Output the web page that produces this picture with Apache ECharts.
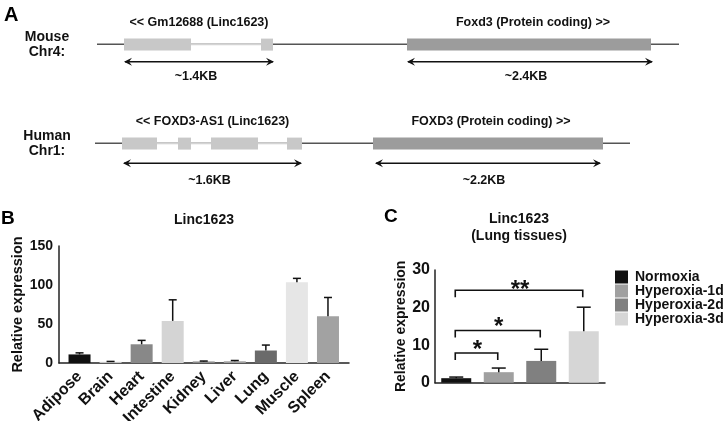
<!DOCTYPE html>
<html><head><meta charset="utf-8">
<script src="https://cdn.jsdelivr.net/npm/echarts@6/dist/echarts.min.js"></script>
<style>html,body{margin:0;padding:0;background:#fff}#c{width:724px;height:421px}</style>
</head><body><div id="c"></div>
<script>
const FONT = '"Liberation Sans", Arial, Helvetica, sans-serif';

// ---------- Panel A : gene structures (schematic units) ----------
const speciesNames = ['Mouse', 'Human'];
const chromosomes = ['Chr4:', 'Chr1:'];
const backboneStart = [0.02, 0.0];
const backboneEnd = [5.84, 5.35];
const lincExons = [
  [[0.29, 0.96], [1.66, 1.78]],
  [[0.27, 0.62], [0.83, 0.96], [1.16, 1.63], [1.92, 2.07]]
];
const codingExons = [[3.12, 5.56], [2.78, 5.08]];
const lincNames = ['<< Gm12688 (Linc1623)', '<< FOXD3-AS1 (Linc1623)'];
const codingNames = ['Foxd3 (Protein coding) >>', 'FOXD3 (Protein coding) >>'];
const lincSpan = [[0.29, 1.79], [0.28, 2.07]];
const codingSpan = [[3.12, 5.58], [2.80, 5.06]];
const lincSize = ['~1.4KB', '~1.6KB'];
const codingSize = ['~2.4KB', '~2.2KB'];

// ---------- Panel B ----------
const tissues = ['Adipose', 'Brain', 'Heart', 'Intestine', 'Kidney', 'Liver', 'Lung', 'Muscle', 'Spleen'];
const tissueMean = [11, 1.5, 24, 54, 2, 2.2, 16, 103.5, 60];
const tissueErr = [2, 0.5, 5, 27, 0.5, 1, 7, 5, 24];
const yTicksB = [0, 50, 100, 150];

// ---------- Panel C ----------
const conditions = ['Normoxia', 'Hyperoxia-1d', 'Hyperoxia-2d', 'Hyperoxia-3d'];
const lungMean = [1.2, 2.8, 5.8, 13.7];
const lungErr = [0.3, 1.1, 3.1, 6.4];
const comparisonFrom = [0, 0, 0];
const comparisonTo = [1, 2, 3];
const comparisonMark = ['*', '*', '**'];
const yTicksC = [0, 10, 20, 30];

// ---------- styles / layout (not data) ----------
const tissueColors = ['#111111', '#c8c8c8', '#888888', '#d4d4d4', '#8c8c8c', '#a0a0a0', '#6a6a6a', '#e6e6e6', '#a2a2a2'];
const conditionColors = ['#111111', '#a0a0a0', '#808080', '#d6d6d6'];
const bracketLevel = [7.9, 13.9, 24.6];
const arrowDy = [17.5, 20];
const sizeDy = [32.5, 37.5];
const AX = '#222';

const chart = echarts.init(document.getElementById('c'));

function arrowShape(x0, x1, y) {
  return [
    { type: 'line', shape: { x1: x0 + 1, y1: y, x2: x1 - 1, y2: y }, style: { stroke: '#111', lineWidth: 1.6 } },
    { type: 'polygon', shape: { points: [[x0, y], [x0 + 8, y - 4], [x0 + 5, y], [x0 + 8, y + 4]] }, style: { fill: '#111' } },
    { type: 'polygon', shape: { points: [[x1, y], [x1 - 8, y - 4], [x1 - 5, y], [x1 - 8, y + 4]] }, style: { fill: '#111' } }
  ];
}

const introns = [];
lincExons.forEach((ex, t) => { for (let i = 0; i < ex.length - 1; i++) introns.push([ex[i][1], ex[i + 1][0], t]); });
const exonData = [];
lincExons.forEach((ex, t) => ex.forEach(e => exonData.push([e[0], e[1], t, 0])));
codingExons.forEach((e, t) => exonData.push([e[0], e[1], t, 1]));

const axisCommon = {
  axisLine: { lineStyle: { color: AX, width: 1.5 } },
  axisTick: { length: 4, lineStyle: { color: AX, width: 1.5 } },
  splitLine: { show: false }
};

const option = {
  animation: false,
  backgroundColor: '#fff',
  textStyle: { fontFamily: FONT },
  grid: [
    { left: 95, top: 44.3, width: 600, height: 99, outerBoundsMode: 'none', containLabel: false },
    { left: 64, top: 246, width: 279.5, height: 117, outerBoundsMode: 'none', containLabel: false },
    { left: 59, top: 246, width: 290, height: 117, outerBoundsMode: 'none', containLabel: false },
    { left: 435, top: 270, width: 170, height: 112.7, outerBoundsMode: 'none', containLabel: false }
  ],
  xAxis: [
    { gridIndex: 0, type: 'value', min: 0, max: 6, show: false },
    Object.assign({}, axisCommon, {
      gridIndex: 1, type: 'category', data: tissues,
      axisLine: { show: false },
      axisTick: { alignWithLabel: true, length: 4, lineStyle: { color: AX, width: 1.5 } },
      axisLabel: { rotate: 45, interval: 0, margin: 11, color: '#111', fontWeight: 'bold', fontSize: 16, fontFamily: FONT }
    }),
    { gridIndex: 2, type: 'value', min: 0, max: 1, axisLine: { show: true, lineStyle: { color: AX, width: 1.5 } },
      axisTick: { show: false }, axisLabel: { show: false }, splitLine: { show: false } },
    Object.assign({}, axisCommon, {
      gridIndex: 3, type: 'category', data: conditions,
      axisTick: { alignWithLabel: true, length: 4, lineStyle: { color: AX, width: 1.5 } },
      axisLabel: { show: false }
    })
  ],
  yAxis: [
    { gridIndex: 0, type: 'value', min: 0, max: 1, inverse: true, show: false },
    Object.assign({}, axisCommon, {
      gridIndex: 1, type: 'value', min: yTicksB[0], max: yTicksB[yTicksB.length - 1], interval: yTicksB[1] - yTicksB[0], offset: 5,
      axisLine: { show: true, lineStyle: { color: AX, width: 1.5 } },
      axisLabel: { margin: 6, color: '#111', fontWeight: 'bold', fontSize: 14, fontFamily: FONT },
      name: 'Relative expression', nameLocation: 'middle', nameGap: 32, nameRotate: 90,
      nameTextStyle: { color: '#111', fontWeight: 'bold', fontSize: 14.5, fontFamily: FONT }
    }),
    { gridIndex: 2, type: 'value', min: 0, max: 1, show: false },
    Object.assign({}, axisCommon, {
      gridIndex: 3, type: 'value', min: yTicksC[0], max: yTicksC[yTicksC.length - 1], interval: yTicksC[1] - yTicksC[0],
      axisLine: { show: true, lineStyle: { color: AX, width: 1.5 } },
      axisLabel: { margin: 5, color: '#111', fontWeight: 'bold', fontSize: 16, fontFamily: FONT },
      name: 'Relative expression', nameLocation: 'middle', nameGap: 19, nameRotate: 90,
      nameTextStyle: { color: '#111', fontWeight: 'bold', fontSize: 14, fontFamily: FONT }
    })
  ],
  legend: {
    data: conditions, orient: 'vertical', left: 615, top: 270, padding: 0, itemGap: 0,
    itemWidth: 13, itemHeight: 13, icon: 'rect', selectedMode: false,
    textStyle: { fontFamily: FONT, fontWeight: 'bold', fontSize: 14, color: '#111', lineHeight: 13, padding: [0, 0, 0, 2] }
  },
  graphic: [
    { type: 'text', left: 4, top: 5, style: { text: 'A', font: 'bold 20px ' + FONT, fill: '#000' } },
    { type: 'text', left: 1, top: 209, style: { text: 'B', font: 'bold 19px ' + FONT, fill: '#000' } },
    { type: 'text', left: 384, top: 207, style: { text: 'C', font: 'bold 19px ' + FONT, fill: '#000' } },
    { type: 'text', x: 204, y: 220, style: { text: 'Linc1623', font: 'bold 14px ' + FONT, fill: '#111', align: 'center', verticalAlign: 'middle' } },
    { type: 'text', x: 519, y: 219.5, style: { text: 'Linc1623', font: 'bold 14px ' + FONT, fill: '#111', align: 'center', verticalAlign: 'middle' } },
    { type: 'text', x: 519, y: 236.5, style: { text: '(Lung tissues)', font: 'bold 14px ' + FONT, fill: '#111', align: 'center', verticalAlign: 'middle' } }
  ],
  series: [
    // Panel A backbone
    { type: 'custom', xAxisIndex: 0, yAxisIndex: 0, z: 1,
      data: speciesNames.map((s, t) => [backboneStart[t], backboneEnd[t], t]),
      renderItem: (p, api) => {
        const a = api.coord([api.value(0), api.value(2)]), b = api.coord([api.value(1), api.value(2)]);
        return { type: 'line', shape: { x1: a[0], y1: a[1], x2: b[0], y2: b[1] }, style: { stroke: '#555', lineWidth: 1.5 } };
      } },
    // introns
    { type: 'custom', xAxisIndex: 0, yAxisIndex: 0, z: 2, data: introns,
      renderItem: (p, api) => {
        const a = api.coord([api.value(0), api.value(2)]), b = api.coord([api.value(1), api.value(2)]);
        return { type: 'line', shape: { x1: a[0], y1: a[1], x2: b[0], y2: b[1] }, style: { stroke: '#d4d4d4', lineWidth: 2 } };
      } },
    // exons
    { type: 'custom', xAxisIndex: 0, yAxisIndex: 0, z: 3, data: exonData,
      renderItem: (p, api) => {
        const a = api.coord([api.value(0), api.value(2)]), b = api.coord([api.value(1), api.value(2)]);
        return { type: 'rect', shape: { x: a[0], y: a[1] - 5.7, width: b[0] - a[0], height: 12 },
          style: { fill: api.value(3) ? '#9c9c9c' : '#c8c8c8' } };
      } },
    // arrows + labels
    { type: 'custom', xAxisIndex: 0, yAxisIndex: 0, z: 4,
      data: speciesNames.map((s, t) => [lincSpan[t][0], lincSpan[t][1], codingSpan[t][0], codingSpan[t][1], t]),
      renderItem: (p, api) => {
        const t = api.value(4);
        const l0 = api.coord([api.value(0), t]), l1 = api.coord([api.value(1), t]);
        const c0 = api.coord([api.value(2), t]), c1 = api.coord([api.value(3), t]);
        const y = l0[1];
        const o = api.coord([0, t]);
        const txt = (x, yy, s, size) => ({ type: 'text', x: x, y: yy, style: { text: s, font: 'bold ' + size + 'px ' + FONT, fill: '#111', align: 'center', verticalAlign: 'middle' } });
        const ch = [].concat(
          arrowShape(l0[0], l1[0], y + arrowDy[t]),
          arrowShape(c0[0], c1[0], y + arrowDy[t]),
          [
            txt((l0[0] + l1[0]) / 2, y - 21.5, lincNames[t], 12.5),
            txt((c0[0] + c1[0]) / 2 + 3, y - 21.5, codingNames[t], 12.5),
            txt((l0[0] + l1[0]) / 2 - 3, y + sizeDy[t], lincSize[t], 12.5),
            txt((c0[0] + c1[0]) / 2 - 4, y + sizeDy[t], codingSize[t], 12.5),
            txt(o[0] - 48, y - 7.5, speciesNames[t], 14),
            txt(o[0] - 48, y + 7.5, chromosomes[t], 14)
          ]);
        return { type: 'group', children: ch };
      } },
    // Panel B bars
    { type: 'bar', xAxisIndex: 1, yAxisIndex: 1, barWidth: 22, z: 2,
      data: tissueMean.map((v, i) => ({ value: v, itemStyle: { color: tissueColors[i] } })) },
    // Panel B error bars
    { type: 'custom', xAxisIndex: 1, yAxisIndex: 1, z: 5,
      data: tissues.map((t, i) => [i, tissueMean[i], tissueErr[i]]),
      renderItem: (p, api) => {
        const i = api.value(0), m = api.value(1), e = api.value(2);
        const a = api.coord([i, m]), b = api.coord([i, m + e]);
        return { type: 'group', children: [
          { type: 'line', shape: { x1: a[0], y1: a[1], x2: b[0], y2: b[1] }, style: { stroke: '#111', lineWidth: 1.5 } },
          { type: 'line', shape: { x1: b[0] - 4, y1: b[1], x2: b[0] + 4, y2: b[1] }, style: { stroke: '#111', lineWidth: 1.5 } }
        ] };
      } },
    // Panel C bars (one series per condition for the legend)
    ...conditions.map((c, k) => ({
      type: 'bar', name: c, xAxisIndex: 3, yAxisIndex: 3, stack: 'lung', barWidth: 30, z: 2,
      itemStyle: { color: conditionColors[k] },
      data: conditions.map((cc, j) => (j === k ? lungMean[k] : '-'))
    })),
    // Panel C error bars
    { type: 'custom', xAxisIndex: 3, yAxisIndex: 3, z: 5,
      data: conditions.map((c, i) => [i, lungMean[i], lungErr[i]]),
      renderItem: (p, api) => {
        const i = api.value(0), m = api.value(1), e = api.value(2);
        const a = api.coord([i, m]), b = api.coord([i, m + e]);
        return { type: 'group', children: [
          { type: 'line', shape: { x1: a[0], y1: a[1], x2: b[0], y2: b[1] }, style: { stroke: '#111', lineWidth: 1.5 } },
          { type: 'line', shape: { x1: b[0] - 7, y1: b[1], x2: b[0] + 7, y2: b[1] }, style: { stroke: '#111', lineWidth: 1.5 } }
        ] };
      } },
    // significance brackets
    { type: 'custom', xAxisIndex: 3, yAxisIndex: 3, z: 6,
      data: comparisonFrom.map((f, k) => [f, comparisonTo[k], bracketLevel[k], k]),
      renderItem: (p, api) => {
        const a = api.coord([api.value(0), api.value(2)]), b = api.coord([api.value(1), api.value(2)]);
        const k = api.value(3);
        return { type: 'group', children: [
          { type: 'polyline', shape: { points: [[a[0] - 1, a[1] + 7], [a[0] - 1, a[1]], [b[0] - 1, b[1]], [b[0] - 1, b[1] + 7]] },
            style: { stroke: '#111', lineWidth: 1.6, fill: null } },
          { type: 'text', x: (a[0] + b[0]) / 2, y: a[1] - (k === 2 ? 0 : 3),
            style: { text: comparisonMark[k], font: 'bold 24px ' + FONT, fill: '#111', align: 'center', verticalAlign: 'middle' } }
        ] };
      } }
  ]
};
chart.setOption(option);
</script></body></html>
